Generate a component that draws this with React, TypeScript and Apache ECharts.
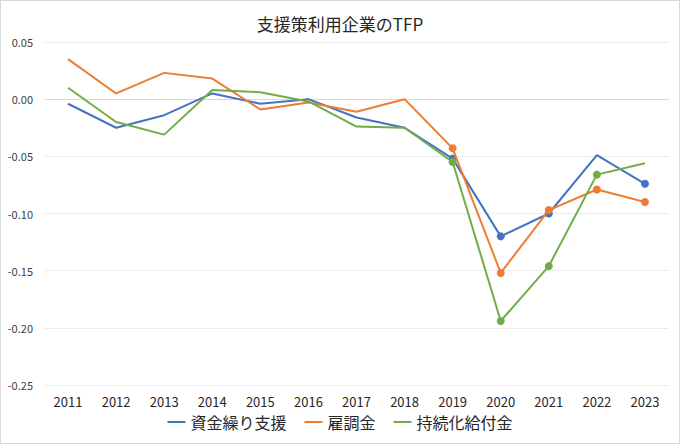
import React, { useEffect, useRef } from "react";
import * as echarts from "echarts";

const years = ["2011","2012","2013","2014","2015","2016","2017","2018","2019","2020","2021","2022","2023"];
const seriesNames = ["資金繰り支援", "雇調金", "持続化給付金"];
const shikinValues = [-0.004, -0.025, -0.014, 0.005, -0.004, 0.000, -0.016, -0.025, -0.052, -0.120, -0.100, -0.049, -0.074];
const koyouValues = [0.035, 0.005, 0.023, 0.018, -0.009, -0.003, -0.011, 0.000, -0.043, -0.152, -0.097, -0.079, -0.090];
const jizokuValues = [0.010, -0.020, -0.031, 0.008, 0.006, -0.002, -0.024, -0.025, -0.055, -0.194, -0.146, -0.066, -0.056];
const shikinMarked = [0,0,0,0,0,0,0,0,1,1,1,0,1];
const koyouMarked = [0,0,0,0,0,0,0,0,1,1,1,1,1];
const jizokuMarked = [0,0,0,0,0,0,0,0,1,1,1,1,0];
const yTicks = { min: -0.25, max: 0.05, interval: 0.05 };
const colors = ["#4472C4", "#ED7D31", "#70AD47"];

const FONT = "'Noto Sans CJK JP', 'Noto Sans', sans-serif";

function buildData(values: number[], marked: number[]) {
  return values.map((v, i) => ({
    value: v,
    symbol: marked[i] ? "circle" : "none",
  }));
}

export default function App() {
  const ref = useRef<HTMLDivElement>(null);
  useEffect(() => {
    document.body.style.margin = "0";
    if (!ref.current) return;
    const chart = echarts.init(ref.current, undefined, { renderer: "svg" });
    const allValues = [shikinValues, koyouValues, jizokuValues];
    const allMarks = [shikinMarked, koyouMarked, jizokuMarked];
    chart.setOption({
      animation: false,
      backgroundColor: "#ffffff",
      title: {
        text: "支援策利用企業のTFP",
        left: "center",
        top: 9,
        textStyle: { fontFamily: FONT, fontSize: 17, fontWeight: "normal", color: "#262626" },
      },
      legend: {
        data: seriesNames,
        bottom: 8,
        left: "center",
        icon: "rect",
        itemWidth: 18,
        itemHeight: 2,
        itemGap: 18,
        textStyle: { fontFamily: FONT, fontSize: 16, color: "#262626" },
      },
      grid: { left: 43, right: 10, top: 41, bottom: 58, containLabel: false },
      xAxis: {
        type: "category",
        data: years,
        boundaryGap: true,
        axisLine: { show: false },
        axisTick: { show: false },
        axisLabel: { fontFamily: FONT, fontSize: 13, color: "#262626", margin: 10 },
      },
      yAxis: {
        type: "value",
        min: yTicks.min,
        max: yTicks.max,
        interval: yTicks.interval,
        axisLine: { show: false },
        axisTick: { show: false },
        axisLabel: {
          fontFamily: FONT,
          fontSize: 11,
          color: "#404040",
          margin: 11,
          formatter: (v: number) => v.toFixed(2),
        },
        splitLine: { lineStyle: { color: "#d9d9d9", type: "dotted", width: 1 } },
      },
      series: seriesNames.map((name, si) => ({
        name,
        type: "line",
        data: buildData(allValues[si], allMarks[si]),
        color: colors[si],
        lineStyle: { width: 2, color: colors[si] },
        itemStyle: { color: colors[si] },
        symbolSize: 8,
        showSymbol: true,
        z: 3 + si,
        markLine:
          si === 0
            ? {
                silent: true,
                symbol: "none",
                label: { show: false },
                lineStyle: { color: "#d9d9d9", type: "solid", width: 1 },
                data: [{ yAxis: 0 }],
                z: 1,
              }
            : undefined,
      })),
    });
    return () => chart.dispose();
  }, []);
  return (
    <div
      ref={ref}
      style={{ width: 680, height: 444, boxSizing: "border-box", border: "1px solid #d9d9d9" }}
    />
  );
}
